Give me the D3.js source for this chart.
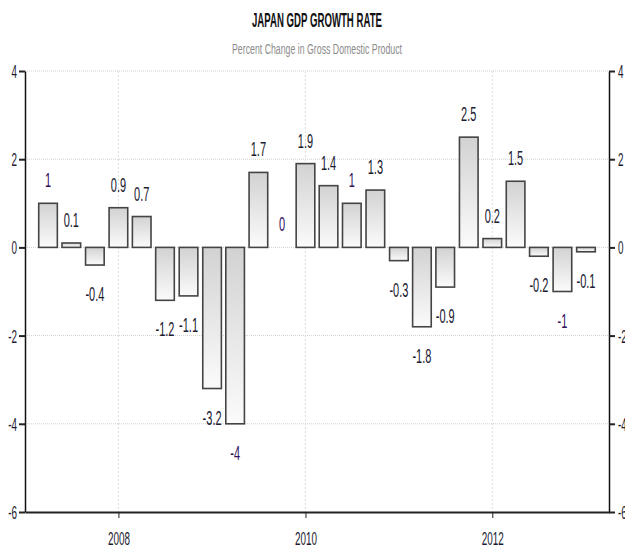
<!DOCTYPE html>
<html>
<head>
<meta charset="utf-8">
<style>
  body { margin: 0; background: #fff; }
  text { font-family: "Liberation Sans", Arial, sans-serif; }
  .grid line { stroke: #cfcfcf; stroke-dasharray: 1,1; }
  .vgrid line { stroke: #dcdcdc; stroke-dasharray: 2,2; }
</style>
<script src="https://cdn.jsdelivr.net/npm/d3@7"></script>
</head>
<body>
<svg id="chart" width="625" height="550"></svg>
<script>
// quarterly data, Q1 2007 .. Q4 2012
const quarters = ["2007Q1","2007Q2","2007Q3","2007Q4","2008Q1","2008Q2","2008Q3","2008Q4",
                  "2009Q1","2009Q2","2009Q3","2009Q4","2010Q1","2010Q2","2010Q3","2010Q4",
                  "2011Q1","2011Q2","2011Q3","2011Q4","2012Q1","2012Q2","2012Q3","2012Q4"]
const growth = [1, 0.1, -0.4, 0.9, 0.7, -1.2, -1.1, -3.2,
                -4, 1.7, 0, 1.9, 1.4, 1, 1.3, -0.3,
                -1.8, -0.9, 2.5, 0.2, 1.5, -0.2, -1, -0.1]
const yTicks = [4, 2, 0, -2, -4, -6]
const xTickYears = [2008, 2010, 2012]

const svg = d3.select("#chart")
const pLeft = 25, pRight = 609, pTop = 71, pBottom = 512

// bars sit at the end of their quarter
const quarterEnd = q => {
    let yr = +q.slice(0, 4), n = +q.slice(5)
    return new Date(yr, n * 3, 1)
}
const data = quarters.map((q, i) => ({ q: q, date: quarterEnd(q), v: growth[i] }))

const x = d3.scaleTime()
    .domain([new Date(2007, 0, 1), new Date(2013, 3, 1)])
    .range([pLeft, pRight])
const y = d3.scaleLinear().domain([-6, 4]).range([pBottom, pTop])

const barW = (x(new Date(2008, 3, 1)) - x(new Date(2008, 0, 1))) * 0.8

// gradient for the bars
const grad = svg.append("defs").append("linearGradient")
    .attr("id", "barFill").attr("x1", 0).attr("y1", 0).attr("x2", 0).attr("y2", 1)
grad.append("stop").attr("offset", "0%").attr("stop-color", "#d2d2d2")
grad.append("stop").attr("offset", "100%").attr("stop-color", "#fbfbfb")

// title
svg.append("text")
    .attr("x", 317).attr("y", 27)
    .attr("text-anchor", "middle")
    .attr("font-size", 20).attr("font-weight", "bold").attr("fill", "#111")
    .attr("textLength", 130).attr("lengthAdjust", "spacingAndGlyphs")
    .text("JAPAN GDP GROWTH RATE")
svg.append("text")
    .attr("x", 317).attr("y", 54)
    .attr("text-anchor", "middle")
    .attr("font-size", 14).attr("fill", "#8c8c8c")
    .attr("textLength", 170).attr("lengthAdjust", "spacingAndGlyphs")
    .text("Percent Change in Gross Domestic Product")

// grid
svg.append("g").attr("class", "grid")
    .selectAll("line").data(yTicks.filter(d => d > -6)).join("line")
    .attr("x1", pLeft).attr("x2", pRight)
    .attr("y1", d => y(d)).attr("y2", d => y(d))

svg.append("g").attr("class", "vgrid")
    .selectAll("line").data(xTickYears).join("line")
    .attr("x1", d => x(new Date(d, 0, 1))).attr("x2", d => x(new Date(d, 0, 1)))
    .attr("y1", pTop).attr("y2", pBottom)

// bars
svg.append("g").selectAll("rect")
    .data(data.filter(d => d.v !== 0)).join("rect")
    .attr("x", d => x(d.date) - barW / 2)
    .attr("width", barW)
    .attr("y", d => y(Math.max(0, d.v)))
    .attr("height", d => Math.abs(y(d.v) - y(0)))
    .attr("fill", "url(#barFill)")
    .attr("stroke", "#444")
    .attr("stroke-width", 1.6)

// value labels (text is squeezed horizontally like the original)
const sx = 0.55
svg.append("g").selectAll("text")
    .data(data).join("text")
    .attr("transform", d => {
        let ty = d.v >= 0 ? y(d.v) - 16 : y(d.v) + 36
        return "translate(" + x(d.date) + "," + ty + ") scale(" + sx + ",1)"
    })
    .attr("text-anchor", "middle")
    .attr("font-size", 20)
    .attr("fill", d => Number.isInteger(d.v) ? "#33105c" : "#1a1a30")
    .text(d => String(d.v))

// axes
const ax = 0.55
let yl = svg.append("g").attr("transform", "translate(" + pLeft + ",0)")
    .call(d3.axisLeft(y).tickValues(yTicks).tickSize(6).tickSizeOuter(0).tickFormat(d => String(d)))
let yr = svg.append("g").attr("transform", "translate(" + pRight + ",0)")
    .call(d3.axisRight(y).tickValues(yTicks).tickSize(6).tickSizeOuter(0).tickFormat(d => String(d)))
let xb = svg.append("g").attr("transform", "translate(0," + pBottom + ")")
    .call(d3.axisBottom(x).tickValues(xTickYears.map(d => new Date(d, 0, 1)))
        .tickSize(6).tickSizeOuter(0).tickFormat(d3.timeFormat("%Y")))

for (let g of [yl, yr, xb]) {
    g.select(".domain").attr("stroke", "#111").attr("stroke-width", 1.5)
    g.selectAll("text").attr("font-size", 18).attr("fill", "#1a1a30")
        .attr("font-family", "Liberation Sans, Arial, sans-serif")
}
yl.selectAll(".tick line").attr("stroke", "#222").attr("stroke-width", 2)
yr.selectAll(".tick line").attr("stroke", "#222").attr("stroke-width", 2)
xb.select(".domain").attr("stroke-width", 2.2).attr("stroke", "#222")
xb.selectAll(".tick line").attr("stroke", "#222")

yl.selectAll("text").attr("x", -8 / ax).attr("dy", "0.36em")
    .attr("transform", "scale(" + ax + ",1)")
yr.selectAll("text").attr("x", 9 / ax).attr("dy", "0.36em")
    .attr("transform", "scale(" + ax + ",1)")
xb.selectAll("text").attr("y", 20).attr("dy", "0.71em")
    .attr("transform", "scale(" + ax + ",1)")
    .attr("x", 0)
</script>
</body>
</html>
